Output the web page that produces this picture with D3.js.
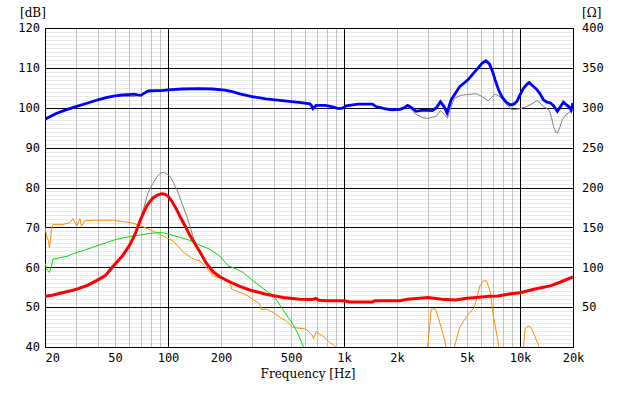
<!DOCTYPE html>
<html><head><meta charset="utf-8">
<script src="https://cdn.jsdelivr.net/npm/d3@7"></script>
<style>
html,body{margin:0;padding:0;background:#fff;}
svg{display:block;}
.tick text{font-family:"DejaVu Sans Mono","Liberation Mono",monospace;font-size:12px;fill:#000;}
</style></head>
<body><svg id="c" width="620" height="396"></svg>
<script>
// ---- data (frequency Hz, value) ----
const freqTicks = [20,50,100,200,500,1000,2000,5000,10000,20000];
const freqTickLabels = ["20","50","100","200","500","1k","2k","5k","10k","20k"];
const dbTicks = [40,50,60,70,80,90,100,110,120];
const ohmTicks = [50,100,150,200,250,300,350,400];

const splBlue = [[20,97.1],[21,97.6],[23,98.5],[26,99.4],[30,100.3],[35,101.2],[40,102],[45,102.6],[50,103],[55,103.2],[60,103.3],[64,103.4],[67,103.2],[70,103.1],[73,103.6],[77,104.2],[85,104.3],[92,104.3],[100,104.5],[120,104.7],[150,104.8],[180,104.7],[210,104.4],[235,104],[256,103.5],[300,102.8],[360,102.2],[420,101.9],[490,101.6],[570,101.3],[640,101],[655,100.5],[665,99.8],[680,100.2],[694,100.6],[780,100.6],[850,100.3],[930,99.8],[980,99.9],[1030,100.5],[1200,100.9],[1450,100.9],[1520,100.3],[1700,99.8],[1850,99.5],[2080,99.6],[2200,100],[2300,100.6],[2420,100],[2570,99.1],[2800,99.4],[3180,99.3],[3350,100],[3530,101.5],[3700,100.3],[3850,98.7],[4060,102],[4540,105.3],[5060,107],[5650,109.5],[6100,111.2],[6400,111.8],[6700,111],[7000,109],[7220,107],[7550,104.5],[7880,102.8],[8300,101.5],[8800,100.7],[9200,100.9],[9610,101.6],[10000,103.2],[10460,104.9],[11000,106],[11270,106.3],[11800,105.5],[12490,104.5],[13000,103.5],[13580,102],[14200,101.4],[14900,101.2],[15500,100.5],[16300,99.1],[17000,100.3],[17640,101.4],[18300,100.8],[18900,100.3],[19500,99.4],[20000,101.2]];

const splGray = [[20,97.0],[23,98.4],[26,99.3],[30,100.2],[35,101.1],[40,101.9],[45,102.5],[50,102.9],[55,103],[60,102.8],[64,102.8],[67,103.1],[70,103.1],[73,103.6],[77,104.2],[85,104.3],[92,104.3],[100,104.5],[120,104.7],[150,104.8],[180,104.7],[210,104.4],[235,104],[256,103.5],[300,102.8],[360,102.2],[420,101.9],[490,101.6],[570,101.3],[640,101],[655,100.5],[665,99.8],[680,100.2],[694,100.6],[780,100.6],[850,100.3],[930,99.8],[980,99.9],[1030,100.5],[1200,100.9],[1450,100.9],[1520,100.3],[1700,99.8],[1850,99.5],[2080,99.6],[2200,100],[2300,100.3],[2420,99.5],[2570,98.3],[2800,97.5],[2980,97.3],[3180,97.6],[3350,97.9],[3530,99.3],[3700,98.4],[3870,97.4],[4000,99.5],[4240,102.4],[4600,103.1],[4970,103.3],[5650,103.5],[6100,102.8],[6580,101.75],[6900,102.6],[7220,103.4],[7550,103],[7880,102.4],[8300,101],[9000,99.5],[10000,99.75],[10800,100.2],[11500,100.8],[12490,101.8],[13000,101.2],[13580,100.3],[14200,99.8],[14700,99.3],[15100,97.5],[15500,95.3],[16000,93.8],[16300,93.7],[16800,95],[17400,97],[18200,98.2],[18900,98.8],[20000,99.3]];

const impRed = [[20,52.7],[22,53],[25,53.6],[28,54.1],[30.3,54.5],[35,55.5],[39,56.6],[44,57.9],[48.9,60.3],[55,62.8],[60.9,65.75],[65,68.3],[69.3,71.6],[72.5,73.6],[75.6,75.3],[79,76.5],[82.2,77.4],[87,78.1],[91.9,78.4],[96,78.3],[100.3,77.8],[105,76.6],[111.9,74.5],[118,72.4],[125.3,70.3],[133,68],[142.8,65.75],[152,63.8],[165,61],[181,58.8],[197,57.6],[225,56.3],[256,55.2],[291,54.3],[361,53.25],[450,52.4],[560,52],[660,51.9],[690,52.2],[720,51.7],[800,51.6],[1000,51.6],[1080,51.3],[1450,51.3],[1500,51.6],[2080,51.6],[2300,52],[3000,52.4],[3600,52],[4300,51.8],[5000,52.2],[5650,52.4],[6700,52.7],[7500,52.8],[8500,53.25],[10000,53.6],[12000,54.5],[13600,55],[15000,55.4],[17000,56.3],[20000,57.6]];

const impGrayLow = [[20,52.5],[25,53.4],[30.3,54.3],[35,55.2],[39,56.2],[44,57.5],[48.9,59.8],[55,62.5],[60.9,65.8],[65,68.6],[69.3,72],[73,75],[77,78.7],[82,81],[86,82.5],[90,83.5],[94,83.8],[97,83.6],[102.6,82.8],[108,81],[114.2,78.7],[120,76],[128,72.8],[135,69.5],[140,67],[152,64],[165,61.1],[181,58.9],[197,57.7]];

const greenCurve = [[20,61],[20.5,59.5],[21.2,58.7],[21.8,60.5],[22.2,62],[24.3,62.4],[27,62.8],[28.9,63.4],[33,64.2],[39,65.3],[45,66.2],[50.8,67],[55,67.3],[60.9,67.7],[70,68.1],[78.9,68.5],[90,68.7],[95,68.6],[102.6,68.2],[115,67.6],[128,67],[140,66.3],[152,65.5],[173,64.5],[197,62.8],[220,60.3],[235,59.9],[267,58.7],[297,57],[332,55.3],[371,53.7],[405,52.4],[442,49.9],[482,47.4],[512,45.75],[548,43.25],[583,40.5],[640,36]];

const orangeCurve = [[20,70],[20.4,68],[20.9,66.6],[21.2,64.9],[21.5,67],[21.8,69.5],[22.2,70.75],[25.4,70.75],[27.7,71.2],[28.9,72.2],[30.3,70.3],[31.6,72.2],[32.2,70.3],[33.7,71.6],[37.6,71.8],[48.9,71.8],[60.9,71.2],[69.3,70.5],[82.2,69.1],[93.9,67.8],[107,66.6],[122.7,63.7],[139.8,62],[152,61.6],[165,59.9],[181,57.8],[200,57.2],[225,56.2],[230,54.5],[244,54.1],[280,53],[332,50.75],[339,49.3],[361,49.5],[395,48.7],[440,47.2],[470,46.6],[512,44.9],[609,44.5],[664,42.8],[670,42],[694,43.8],[753,42.8],[822,41.3],[898,40.1],[950,38],[1100,35],[2850,35],[2990,40.3],[3080,46],[3125,49.5],[3310,49.5],[3410,47.8],[3720,42],[3800,40],[3900,36],[4150,36],[4240,40],[4540,44.9],[4800,46.6],[5150,48.5],[5500,49.9],[5910,55.3],[6200,56.6],[6450,56.6],[6760,54],[7060,47.8],[7540,40.75],[7700,36],[10300,36],[10460,40],[10690,44.5],[11000,45.2],[11300,45.2],[11680,44.5],[12760,40.3],[13000,36],[20000,36]];

// ---- chart ----
const L=45, R=573, T=28, B=347;
const svg = d3.select("#c");
const x = d3.scaleLog().domain([20,20000]).range([L,R]);
const y = d3.scaleLinear().domain([40,120]).range([B,T]);
const yR = d3.scaleLinear().domain([0,400]).range([B,T]);

const grid = svg.append("g").attr("shape-rendering","crispEdges");
d3.range(41,120).filter(v=>v%10!==0).forEach(v=>{
  const yy=Math.round(y(v))+0.5;
  grid.append("line").attr("x1",L).attr("x2",R).attr("y1",yy).attr("y2",yy).attr("stroke","#e8e8e8");
});
const minorF=[];
[10,100,1000,10000].forEach(d=>{for(let k=2;k<=9;k++){const f=d*k; if(f>20&&f<20000&&f!==100&&f!==1000&&f!==10000) minorF.push(f);}});
minorF.forEach(f=>{
  const xx=Math.round(x(f))+0.5;
  grid.append("line").attr("x1",xx).attr("x2",xx).attr("y1",T).attr("y2",B).attr("stroke","#c0c0c0");
});
dbTicks.forEach(v=>{
  const yy=Math.round(y(v))+0.5;
  grid.append("line").attr("x1",L).attr("x2",R).attr("y1",yy).attr("y2",yy).attr("stroke","#000");
});
[100,1000,10000].forEach(f=>{
  const xx=Math.round(x(f))+0.5;
  grid.append("line").attr("x1",xx).attr("x2",xx).attr("y1",T).attr("y2",B).attr("stroke","#000");
});
grid.append("rect").attr("x",L+0.5).attr("y",Math.round(T)+0.5).attr("width",R-L).attr("height",Math.round(B)-Math.round(T)).attr("fill","none").attr("stroke","#000");

svg.append("clipPath").attr("id","clip").append("rect").attr("x",L).attr("y",T).attr("width",R-L).attr("height",B-T);
const plot = svg.append("g").attr("clip-path","url(#clip)");
const line = d3.line().x(d=>x(d[0])).y(d=>y(d[1]));

const impGray = impGrayLow.concat(impRed.filter(d=>d[0]>197));
plot.append("path").datum(splGray).attr("d",line).attr("fill","none").attr("stroke","#808080").attr("stroke-width",1);
plot.append("path").datum(impGray).attr("d",line).attr("fill","none").attr("stroke","#808080").attr("stroke-width",1);
plot.append("path").datum(orangeCurve).attr("d",line).attr("fill","none").attr("stroke","#ff8c00").attr("stroke-width",1);
plot.append("path").datum(greenCurve).attr("d",line).attr("fill","none").attr("stroke","#00e000").attr("stroke-width",1);
plot.append("path").datum(impRed).attr("d",line).attr("fill","none").attr("stroke","#ff0000").attr("stroke-width",3);
plot.append("path").datum(splBlue).attr("d",line).attr("fill","none").attr("stroke","#0000ff").attr("stroke-width",2.8);

const ax1 = svg.append("g").attr("transform",`translate(${L},0)`)
  .call(d3.axisLeft(y).tickValues(dbTicks).tickSize(0).tickPadding(5).tickFormat(d3.format("d")));
const ax2 = svg.append("g").attr("transform",`translate(${R},0)`)
  .call(d3.axisRight(yR).tickValues(ohmTicks).tickSize(0).tickPadding(9).tickFormat(d3.format("d")));
const ax3 = svg.append("g").attr("transform",`translate(0,${B})`)
  .call(d3.axisBottom(x).tickValues(freqTicks).tickSize(0).tickPadding(6).tickFormat((d,i)=>freqTickLabels[i]));
[ax1,ax2,ax3].forEach(a=>a.select(".domain").remove());
ax3.selectAll(".tick text").filter((d,i)=>i===0).attr("text-anchor","start");

svg.append("text").attr("x",20).attr("y",17).text("[dB]")
  .style("font-family","'DejaVu Serif',serif").style("font-size","12px");
svg.append("text").attr("x",582).attr("y",17).text("[Ω]")
  .style("font-family","'DejaVu Serif',serif").style("font-size","12px");
svg.append("text").attr("x",308).attr("y",378).attr("text-anchor","middle").text("Frequency [Hz]")
  .style("font-family","'DejaVu Serif',serif").style("font-size","12px");
</script></body></html>
